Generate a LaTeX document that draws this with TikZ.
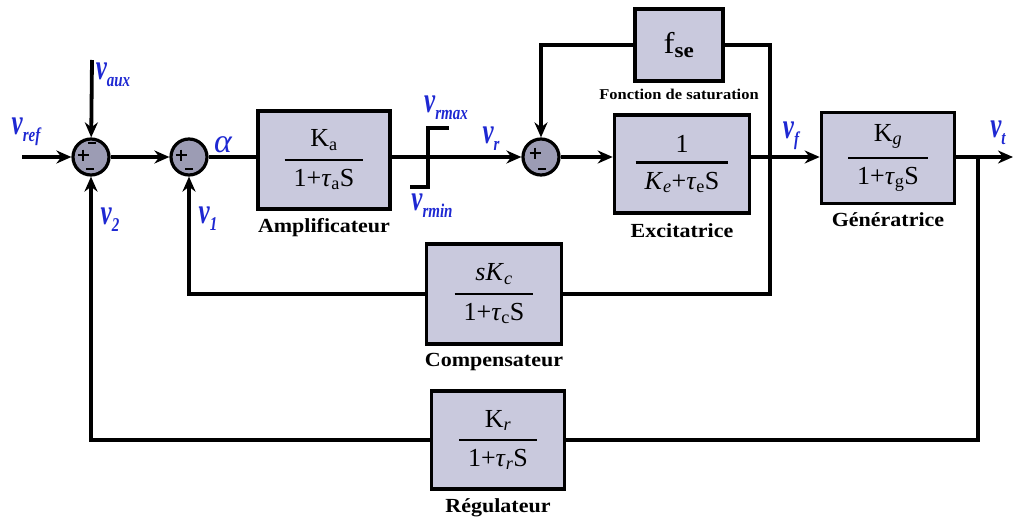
\documentclass[tikz,border=0pt]{standalone}
\usepackage{amsmath}
\usepackage{fontspec}
\setmainfont{Liberation Serif}
\usepackage{graphicx}
\usetikzlibrary{arrows.meta,positioning}
\definecolor{boxfill}{HTML}{C9C9DD}
\definecolor{sumfill}{HTML}{9C9CB4}
\definecolor{vblue}{HTML}{1E28D2}
\newcommand{\wide}[1]{\scalebox{1.1}[1]{#1}}
\newcommand{\blockfrac}[2]{$\genfrac{}{}{2.6pt}{0}{\text{#1}}{\text{\hspace{9pt}#2\hspace{9pt}}}$}
\newcommand{\lowi}[1]{\textsubscript{\textit{#1}}}
\newcommand{\sigv}[1]{\bfseries\itshape\scalebox{1}[1.45]{v}\raisebox{-7pt}{\fontsize{15}{15}\selectfont\scalebox{1}[1.3]{#1}}}
% plus and minus marks inside a summing junction
\newcommand{\sumplus}[2]{\draw[sgn] ([shift={#2}]#1.center) -- ++(11,0) ++(-5.5,-5.5) -- ++(0,11);}
\newcommand{\summinus}[2]{\draw[sgn] ([shift={#2}]#1.center) -- ++(8,0);}

\begin{document}
\begin{tikzpicture}[x=1pt, y=-1pt, >={Stealth[length=15pt,width=13pt]}, line width=3.8pt,
    block/.style={draw, fill=boxfill, line width=3.6pt, inner sep=0pt, font=\fontsize{26}{28}\selectfont},
    summer/.style={circle, draw, fill=sumfill, line width=3.2pt, minimum size=36pt, inner sep=0pt},
    caption/.style={font=\fontsize{20}{20}\selectfont\bfseries, inner sep=1pt},
    sig/.style={text=vblue, font=\fontsize{25}{25}\selectfont, inner sep=0pt},
    sgn/.style={line width=2.6pt}]
  \useasboundingbox (0,0) rectangle (1013,522);

  % summing junctions
  \node[summer] (sumA) at (91,157) {};
  \node[summer] (sumB) at (189,157) {};
  \node[summer] (sumC) at (541,157) {};
  \sumplus{sumA}{(-13.5,-2)}
  \summinus{sumA}{(-3,-14)}
  \summinus{sumA}{(-5,12)}
  \sumplus{sumB}{(-13.5,-2)}
  \summinus{sumB}{(-4,12)}
  \sumplus{sumC}{(-11.5,-4)}
  \summinus{sumC}{(-3,12)}

  % transfer blocks
  \node[block, minimum width=132pt, minimum height=98pt] (amp) at (324,160) {\blockfrac{K\textsubscript{a}}{1+\textit{τ}\textsubscript{a}S}};
  \node[block, minimum width=88pt, minimum height=72pt, font=\fontsize{30}{30}\selectfont] (fse) at (679,45) {\wide{f\textsubscript{\bfseries se}}};
  \node[block, minimum width=135pt, minimum height=98pt] (exc) at (682,164) {\blockfrac{1}{\textit{K}\lowi{e}+\textit{τ}\textsubscript{e}S}};
  \node[block, minimum width=133pt, minimum height=91pt] (gen) at (888,158) {\blockfrac{K\lowi{g}}{1+\textit{τ}\textsubscript{g}S}};
  \node[block, minimum width=135pt, minimum height=100pt] (comp) at (494,294) {\blockfrac{\textit{sK}\lowi{c}}{1+\textit{τ}\textsubscript{c}S}};
  \node[block, minimum width=133pt, minimum height=98pt] (reg) at (498,440) {\blockfrac{K\lowi{r}}{1+\textit{τ}\lowi{r}S}};

  \node[caption, below=5pt of amp] (camp) {\wide{Amplificateur}};
  \node[caption, font=\fontsize{15}{15}\selectfont\bfseries, below=3pt of fse] (cfse) {\wide{Fonction de saturation}};
  \node[caption, below=6pt of exc] (cexc) {\wide{Excitatrice}};
  \node[caption, below=4pt of gen] (cgen) {\wide{Génératrice}};
  \node[caption, below=5pt of comp] (ccomp) {\wide{Compensateur}};
  \node[caption, below=5pt of reg] (creg) {\wide{Régulateur}};

  % signal names
  \node[sig] (lref) at (26,132) {\sigv{ref}};
  \node[sig] (laux) at (113,75) {\sigv{aux}};
  \node[sig] (ltwo) at (110,220) {\sigv{2}};
  \node[sig] (lone) at (208,219) {\sigv{1}};
  \node[sig] (lalpha) at (223,145) {\itshape\scalebox{1.35}[1.35]{α}};
  \node[sig] (lmax) at (446,108) {\sigv{rmax}};
  \node[sig] (lmin) at (432,206) {\sigv{rmin}};
  \node[sig] (lr) at (491,139) {\sigv{r}};
  \node[sig] (lf) at (791,136) {\sigv{f}};
  \node[sig] (lt) at (998,133) {\sigv{t}};

  \coordinate (vin) at (22,157);
  \coordinate (vauxin) at (92,60);
  \coordinate (lim) at (428,157);
  \coordinate (jf) at (770,157);
  \coordinate (jt) at (978,157);
  \coordinate (vout) at (1013,157);

  % forward path
  \draw[->] (vin) -- (sumA);
  \draw[->] (vauxin) -- (sumA);
  \draw[->] (sumA) -- (sumB);
  \draw (sumB) -- (sumB -| amp.west);
  \draw[->] (amp.east |- sumC) -- (sumC);
  \draw[line width=3.2pt] (lim) ++(-18,30) -- ++(18,0) -- ++(0,-59) -- ++(21,0);
  \draw[->] (sumC) -- (sumC -| exc.west);
  \draw[->] (exc.east |- jf) -- (jf -| gen.west);
  \draw[->] (gen.east |- jt) -- (vout);

  % feedback loops
  \draw (jf) |- (fse.east);
  \draw[->] (fse.west) -| (sumC);
  \draw (jf) |- (comp.east);
  \draw[->] (comp.west) -| (sumB);
  \draw (jt) |- (reg.east);
  \draw[->] (reg.west) -| (sumA);
\end{tikzpicture}
\end{document}
